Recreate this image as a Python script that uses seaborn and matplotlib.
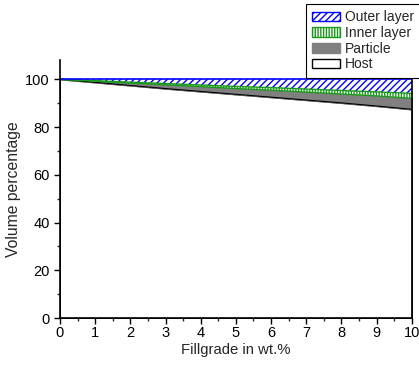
import numpy as np
import pandas as pd
import matplotlib
matplotlib.use("Agg")
import matplotlib.pyplot as plt
import seaborn as sns
from matplotlib.patches import Patch

fillgrade = [0, 1, 2, 3, 4, 5, 6, 7, 8, 9, 10]
host = [100, 98.7, 97.4, 96.1, 94.9, 93.7, 92.5, 91.3, 90.1, 88.8, 87.4]
particle_top = [100, 99.2, 98.4, 97.7, 96.9, 96.1, 95.4, 94.6, 93.8, 93.0, 92.0]
inner_top = [100, 99.4, 98.8, 98.2, 97.6, 97.0, 96.5, 95.9, 95.3, 94.7, 94.1]
outer_top = [100] * 11

df = pd.DataFrame({"x": fillgrade, "host": host, "particle": particle_top,
                   "inner": inner_top, "outer": outer_top})

sns.set_style("ticks")
plt.rcParams["font.family"] = ["Liberation Sans", "DejaVu Sans"]
plt.rcParams["hatch.linewidth"] = 1.0

fig = plt.figure(figsize=(4.19, 3.69), dpi=100)
ax = fig.add_axes([0.143, 0.138, 0.840, 0.699])

layers = [df["host"], df["particle"] - df["host"], df["inner"] - df["particle"],
          df["outer"] - df["inner"]]
polys = ax.stackplot(df["x"], *layers, colors=["white", "gray", "white", "white"])
polys[0].set_edgecolor("black")
polys[0].set_linewidth(0.8)
polys[1].set_edgecolor("gray")
polys[2].set_hatch("||||||")
polys[2].set_edgecolor("#1a9a1a")
polys[2].set_linewidth(0)
polys[3].set_hatch("/////")
polys[3].set_edgecolor("blue")
polys[3].set_linewidth(0)

sns.lineplot(data=df, x="x", y="host", color="black", lw=0.8, ax=ax)
sns.lineplot(data=df, x="x", y="particle", color="#1a9a1a", lw=1.0, ax=ax)
sns.lineplot(data=df, x="x", y="inner", color="#1a9a1a", lw=1.0, ax=ax)
sns.lineplot(data=df, x="x", y="outer", color="blue", lw=1.2, ax=ax)

ax.set_xlim(0, 10)
ax.set_ylim(0, 108)
ax.set_xticks(range(0, 11))
ax.set_xticks(np.arange(0.5, 10, 1), minor=True)
ax.set_yticks(range(0, 101, 20))
ax.set_yticks(range(10, 100, 20), minor=True)
ax.tick_params(which="major", length=4, width=1, labelsize=10.5, colors="black")
ax.tick_params(which="minor", length=2.5, width=1)
ax.tick_params(axis="x", pad=2)
ax.spines["top"].set_visible(False)
for s in ["left", "bottom", "right"]:
    ax.spines[s].set_linewidth(1.2)
    ax.spines[s].set_color("black")
ax.set_xlabel("Fillgrade in wt.%", fontsize=10.7, labelpad=2)
ax.set_ylabel("Volume percentage", fontsize=11.3, labelpad=3)

handles = [
    Patch(facecolor="white", edgecolor="blue", hatch="/////", label="Outer layer"),
    Patch(facecolor="white", edgecolor="#1a9a1a", hatch="||||||", label="Inner layer"),
    Patch(facecolor="gray", edgecolor="gray", label="Particle"),
    Patch(facecolor="white", edgecolor="black", label="Host"),
]
leg = fig.legend(handles=handles, loc="upper left", bbox_to_anchor=(0.730, 0.989),
                 fontsize=10, frameon=True, fancybox=False, framealpha=1,
                 edgecolor="black", borderpad=0.45, labelspacing=0.12,
                 handlelength=2.0, handleheight=0.7, handletextpad=0.35,
                 borderaxespad=0)
leg.get_frame().set_linewidth(0.8)

fig.savefig("out.png", dpi=100)
